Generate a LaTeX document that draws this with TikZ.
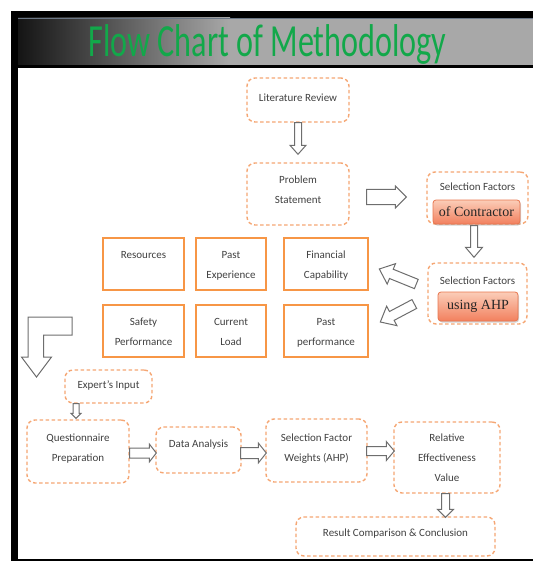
\documentclass[tikz,border=0pt]{standalone}
\usepackage{fontspec}
\usepackage{graphicx}
\setmainfont{Carlito}
\newfontfamily\serifAHP{Liberation Serif}
\usetikzlibrary{calc,shadows}
\definecolor{dashOr}{HTML}{F5A673}
\definecolor{solidOr}{HTML}{F79646}
\definecolor{txt}{HTML}{404040}
\definecolor{arrgray}{HTML}{6E6E6E}
\definecolor{ttl}{HTML}{12A84A}
\definecolor{bannergray}{HTML}{A8A8A8}
\definecolor{bannerline}{HTML}{6A7686}
\definecolor{salmonTop}{HTML}{FBCDB8}
\definecolor{salmonBot}{HTML}{F2805E}
\definecolor{salmonEdge}{HTML}{E8764F}
\newcommand{\ml}[2]{\raisebox{#1pt}[\height][\depth]{\begin{tabular}{@{}c@{}}#2\end{tabular}}}
% hollow block arrow: tail, tip, shaft half width, head half width, head length
\newcommand{\blockarrow}[5]{%
  \coordinate (bat) at #1;
  \coordinate (bah) at #2;
  \coordinate (bab) at ($(bah)!#5pt!(bat)$);
  \draw[barrow] ($(bat)!#3pt!90:(bah)$) -- ($(bab)!#3pt!90:(bah)$) -- ($(bab)!#4pt!90:(bah)$)
    -- (bah) -- ($(bab)!#4pt!-90:(bah)$) -- ($(bab)!#3pt!-90:(bah)$) -- ($(bat)!#3pt!-90:(bah)$) -- cycle;}
\begin{document}
\begin{tikzpicture}[x=1pt,y=-1pt,
  every node/.style={text=txt, font=\fontsize{11}{20}\selectfont, inner sep=0pt},
  dbox/.style={draw=dashOr, line width=1.4pt, dash pattern=on 3.5pt off 2.5pt, rounded corners=8pt},
  sbox/.style={draw=solidOr, line width=2.6pt},
  fbox/.style={draw=salmonEdge, line width=0.8pt, rounded corners=3pt, top color=salmonTop, bottom color=salmonBot,
    drop shadow={opacity=0.35, shadow xshift=1pt, shadow yshift=-1.5pt},
    font=\serifAHP\fontsize{14}{16}\selectfont, text=black!85},
  barrow/.style={draw=arrgray, line width=1pt, fill=white, line join=miter}
]
\useasboundingbox (0,0) rectangle (533,561);
% frame and banner
\fill[black] (11,11) rectangle (533,68);
\shade[left color=black!92, right color=bannergray] (18,18) rectangle (230,65);
\fill[bannergray] (230,18) rectangle (533,65);
\draw[bannerline, line width=0.7pt] (18,18.4) -- (533,18.4);
\fill[black] (11,11) rectangle (18,561);
\fill[black] (11,559) rectangle (533,561);
\node[font=\fontsize{46}{46}\selectfont, text=ttl, anchor=base] (title) at (267.5,57) {\scalebox{0.7}[1]{Flow Chart of Methodology}};

% top part
\node[dbox, minimum width=102pt, minimum height=44pt] (lit) at (298,100) {\ml{2}{Literature Review}};
\node[dbox, minimum width=102pt, minimum height=62pt] (prob) at (298,194) {\ml{4}{Problem\\Statement}};
\node[dbox, minimum width=101pt, minimum height=52pt] (selA) at (477.5,198) {\ml{12}{Selection Factors}};
\node[fbox, minimum width=87pt, minimum height=24pt] (ofc) at (476.5,212) {of Contractor};
\node[dbox, minimum width=99pt, minimum height=61pt] (selB) at (477.5,293.5) {\ml{13.5}{Selection Factors}};
\node[fbox, minimum width=80pt, minimum height=29pt] (ahp) at (478,306.5) {using AHP};

% factor boxes
\node[sbox, minimum width=81pt, minimum height=52pt] (res) at (143.5,264) {\ml{10}{Resources}};
\node[sbox, minimum width=70pt, minimum height=52pt] (pexp) at (231,264) {\ml{0}{Past\\Experience}};
\node[sbox, minimum width=84pt, minimum height=52pt] (fin) at (326,264) {\ml{0}{Financial\\Capability}};
\node[sbox, minimum width=81pt, minimum height=52pt] (safe) at (143.5,331) {\ml{0}{Safety\\Performance}};
\node[sbox, minimum width=70pt, minimum height=52pt] (load) at (231,331) {\ml{0}{Current\\Load}};
\node[sbox, minimum width=84pt, minimum height=52pt] (pperf) at (326,331) {\ml{0}{Past\\performance}};

% lower part
\node[dbox, minimum width=87pt, minimum height=33pt] (exp) at (108.5,386.5) {\ml{2.5}{Expert’s Input}};
\node[dbox, minimum width=102pt, minimum height=63pt] (quest) at (78,451.5) {\ml{4.5}{Questionnaire\\Preparation}};
\node[dbox, minimum width=85pt, minimum height=46pt] (data) at (198.5,450) {\ml{7}{Data Analysis}};
\node[dbox, minimum width=101pt, minimum height=63pt] (wts) at (316.5,450.5) {\ml{3.5}{Selection Factor\\Weights (AHP)}};
\node[dbox, minimum width=106pt, minimum height=71pt] (rev) at (447,457.5) {\ml{0.5}{Relative\\Effectiveness\\Value}};
\node[dbox, minimum width=199pt, minimum height=39pt] (resc) at (395.5,536.5) {\ml{4}{Result Comparison \& Conclusion}};

% arrows
\blockarrow{(lit.south)}{($(prob.north)+(0,-8)$)}{3.5}{8}{9}
\blockarrow{($(prob.east)+(17,3)$)}{($(selA.west)+(-20,-1)$)}{7.5}{11}{11}
\blockarrow{($(selA.south)+(-3.5,1)$)}{($(selB.north)+(-3.5,-5)$)}{3.5}{8.5}{10}
\blockarrow{($(selB.west)+(-11,-9.5)$)}{($(fin.east)+(10,5)$)}{5}{11}{13}
\blockarrow{($(selB.west)+(-13,10.5)$)}{($(pperf.east)+(11,-9)$)}{5}{11}{13}
\draw[barrow] (28,317) -- (72,317) -- (72,335) -- (43.5,335) -- (43.5,357) -- (51.5,357) -- (36.5,377) -- (21.5,357) -- (28,357) -- cycle;
\blockarrow{($(exp.south)+(-32.5,0)$)}{($(quest.north)+(-2,-1)$)}{3}{5}{5}
\blockarrow{($(quest.east)+(0,1.5)$)}{($(data.west)+(1,3)$)}{5}{9}{7}
\blockarrow{($(data.east)+(-1,3)$)}{($(wts.west)+(1,2.5)$)}{5.5}{10}{8}
\blockarrow{($(wts.east)+(-1,0.5)$)}{($(rev.west)+(1,-6.5)$)}{4.5}{9.5}{8}
\blockarrow{($(rev.south)+(-1.5,0)$)}{($(resc.north)+(50,1)$)}{4}{8}{8}
\end{tikzpicture}
\end{document}
